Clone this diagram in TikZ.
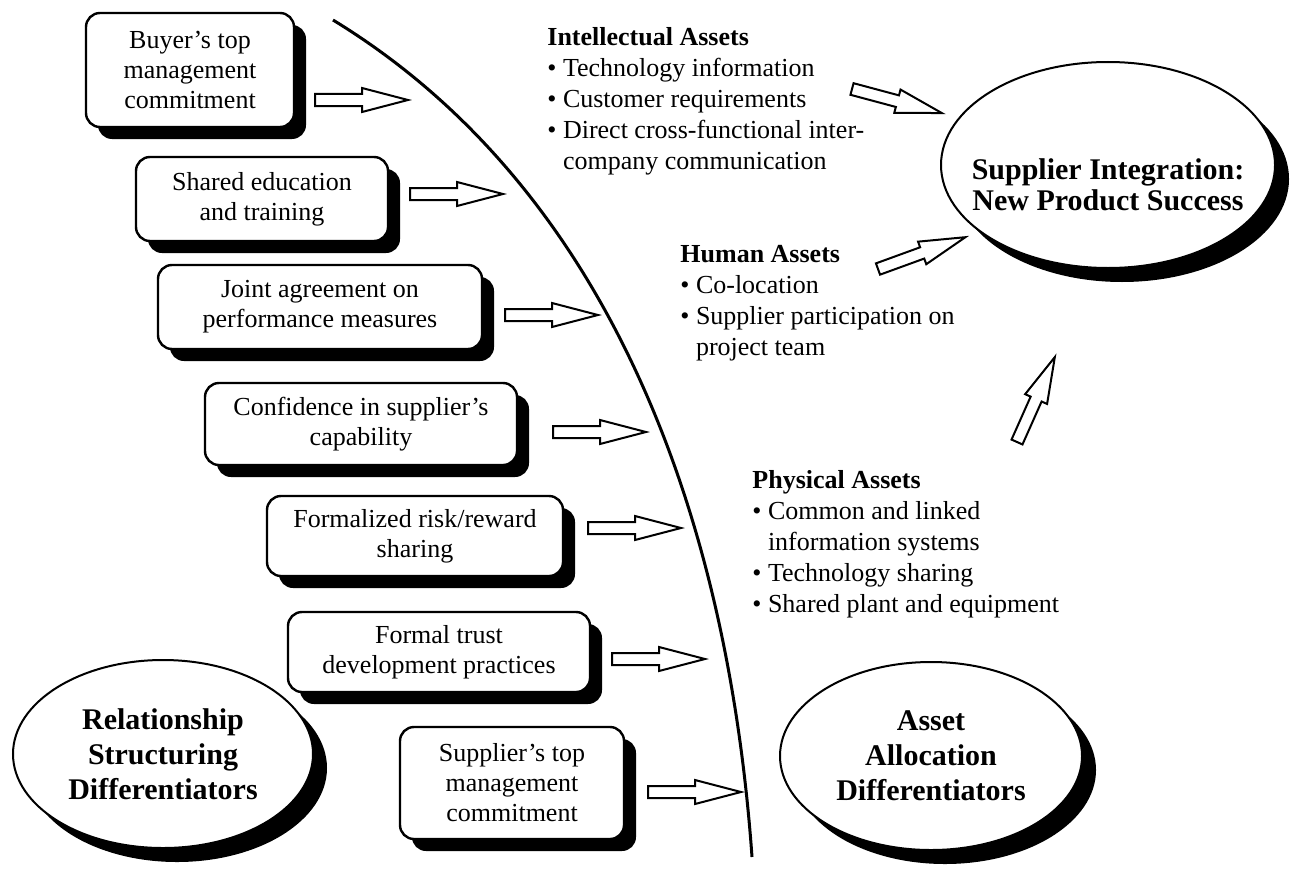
\documentclass[tikz,border=0pt]{standalone}
\usepackage{fontspec}
\setmainfont{Liberation Serif}
\usetikzlibrary{shapes.geometric, shadows}

\begin{document}
\begin{tikzpicture}[x = 0.5pt, y = -0.5pt,
	factor/.style = {draw, line width = 1.2pt, rounded corners = 7pt, fill = white, align = center, inner sep = 2pt,
		font = \fontsize{13}{15}\selectfont,
		drop shadow = {shadow xshift = 6pt, shadow yshift = -6pt, opacity = 1, fill = black}},
	blob/.style = {draw, ellipse, line width = 1pt, fill = white, inner sep = 0pt, minimum width = 151pt, minimum height = 94pt,
		align = center, font = \fontsize{15}{17.5}\selectfont\bfseries,
		drop shadow = {shadow xshift = 7pt, shadow yshift = -7pt, opacity = 1, fill = black}},
	assets/.style = {anchor = north west, align = left, inner sep = 0pt, font = \fontsize{13}{15.5}\selectfont},
	fatarrow/.pic = {\draw [line width = 1pt, fill = white] (0, -6) -- (47, -6) -- (47, -12) -- (93, 0) -- (47, 12) -- (47, 6) -- (0, 6) -- cycle;}
]

\useasboundingbox (0, 0) rectangle (1304, 872);

% Dividing curve

\draw [line width = 1.5pt] (333, 20) .. controls (605, 186) and (727, 507) .. (752, 857);

% Relationship structuring factors

\node [factor, minimum width = 104pt, minimum height = 57pt] (buyer) at (190, 70) {Buyer's top\\management\\commitment};
\node [factor, minimum width = 126pt, minimum height = 42pt] (education) at (262, 199) {Shared education\\and training};
\node [factor, minimum width = 162pt, minimum height = 42pt] (agreement) at (320, 307) {Joint agreement on\\performance measures};
\node [factor, minimum width = 156pt, minimum height = 41pt] (confidence) at (361, 424) {Confidence in supplier's\\capability};
\node [factor, minimum width = 148pt, minimum height = 40pt] (risk) at (415, 536) {Formalized risk/reward\\sharing};
\node [factor, minimum width = 151pt, minimum height = 40pt] (trust) at (439, 652) {Formal trust\\development practices};
\node [factor, minimum width = 112pt, minimum height = 56pt] (supplier) at (512, 783) {Supplier's top\\management\\commitment};

% Arrows towards the curve

\foreach \x/\y in {315/100, 410/194, 505/315, 553/432, 588/528, 612/659, 648/792}
	\pic at (\x, \y) {fatarrow};

% Asset lists

\node [assets] (intellectual) at (547, 27) {\textbf{Intellectual Assets}\\
	\textbullet\ Technology information\\
	\textbullet\ Customer requirements\\
	\textbullet\ Direct cross-functional inter-\\
	\phantom{\textbullet\ }company communication};

\node [assets] (human) at (680, 245) {\textbf{Human Assets}\\
	\textbullet\ Co-location\\
	\textbullet\ Supplier participation on\\
	\phantom{\textbullet\ }project team};

\node [assets] (physical) at (752, 470) {\textbf{Physical Assets}\\
	\textbullet\ Common and linked\\
	\phantom{\textbullet\ }information systems\\
	\textbullet\ Technology sharing\\
	\textbullet\ Shared plant and equipment};

% Differentiators + outcome

\node [blob, minimum width = 150pt] (relationship) at (163, 754) {Relationship\\Structuring\\Differentiators};
\node [blob] (allocation) at (931, 756) {Asset\\Allocation\\Differentiators};
\node [blob, minimum width = 167pt, minimum height = 103pt,
	label = {[align = center, font = \fontsize{15}{15.5}\selectfont\bfseries, yshift = -10pt]center:{Supplier Integration:\\New Product Success}}]
	(success) at (1108, 165) {};

% Arrows into the outcome

\pic [rotate = -15] at (852, 89) {fatarrow};
\pic [rotate = 20] at (878, 269) {fatarrow};
\pic [rotate = 66] at (1017, 442) {fatarrow};

\end{tikzpicture}
\end{document}
